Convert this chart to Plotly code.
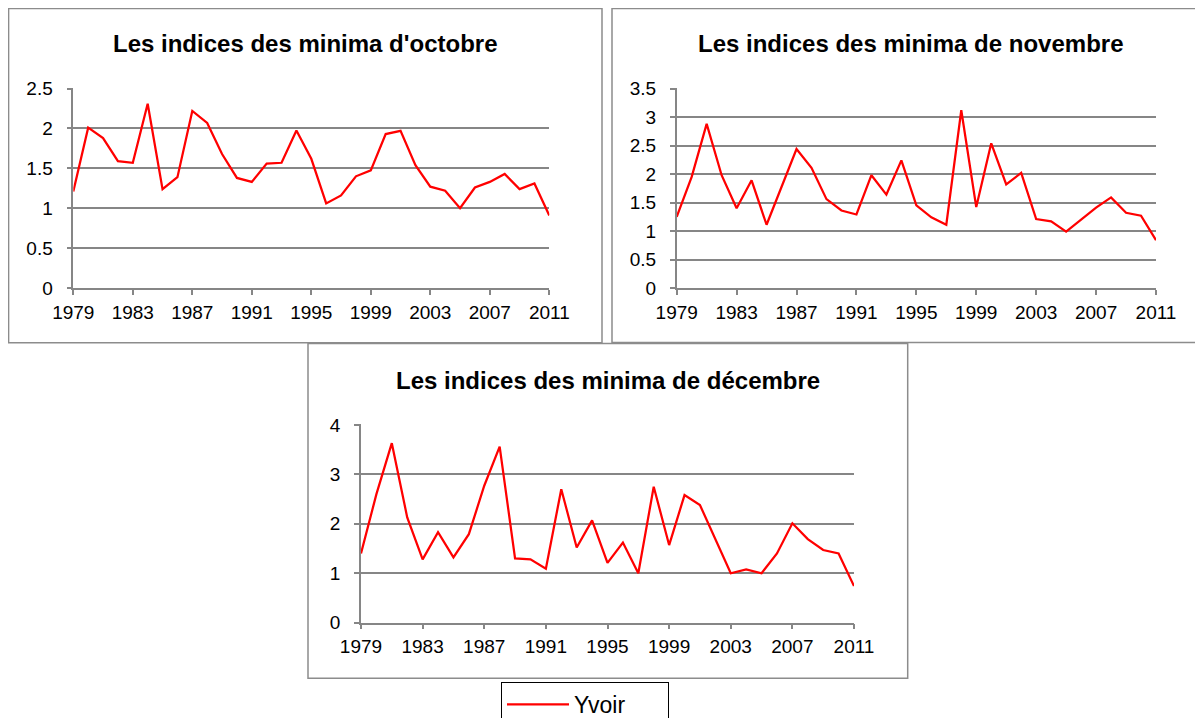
import plotly.graph_objects as go

# page body has an 8px margin: the figure is sized and placed so page coordinates match
OFF = 8
W, H = 1203 - OFF, 726 - 2 * OFF

years = list(range(1979, 2012))

octobre = [1.21, 2.01, 1.88, 1.59, 1.57, 2.31, 1.24, 1.39, 2.22, 2.07, 1.68,
           1.38, 1.33, 1.56, 1.57, 1.975, 1.62, 1.06, 1.16, 1.40, 1.475,
           1.93, 1.97, 1.54, 1.27, 1.22, 1.00, 1.26, 1.33, 1.43, 1.24, 1.31, 0.91]

novembre = [1.25, 1.95, 2.88, 1.98, 1.40, 1.89, 1.11, 1.78, 2.44, 2.11, 1.56,
            1.36, 1.29, 1.98, 1.64, 2.24, 1.45, 1.24, 1.11, 3.12, 1.42,
            2.54, 1.82, 2.02, 1.21, 1.17, 0.99, 1.20, 1.41, 1.59, 1.32, 1.27, 0.84]

decembre = [1.40, 2.60, 3.63, 2.13, 1.28, 1.83, 1.32, 1.79, 2.77, 3.56, 1.30,
            1.28, 1.09, 2.70, 1.52, 2.07, 1.21, 1.62, 1.00, 2.75, 1.57,
            2.58, 2.38, 1.69, 1.00, 1.08, 1.00, 1.40, 2.01, 1.69, 1.47, 1.40, 0.74]

x_tickvals = [1979, 1983, 1987, 1991, 1995, 1999, 2003, 2007, 2011]
x_ticktext = [str(v) for v in x_tickvals]

y1_vals = [0, 0.5, 1, 1.5, 2, 2.5]
y1_text = ["0", "0.5", "1", "1.5", "2", "2.5"]
y2_vals = [0, 0.5, 1, 1.5, 2, 2.5, 3, 3.5]
y2_text = ["0", "0.5", "1", "1.5", "2", "2.5", "3", "3.5"]
y3_vals = [0, 1, 2, 3, 4]
y3_text = ["0", "1", "2", "3", "4"]

titles = ["Les indices des minima d'octobre",
          "Les indices des minima de novembre",
          "Les indices des minima de décembre"]
series_name = "Yvoir"


def px(x):
    return (x - OFF) / W


def py(y):
    return 1 - (y - OFF) / H


GRID = "#868686"
BOX = "#8c8c8c"
FONT = "Liberation Sans, Arial, sans-serif"
RED = "#ff0000"
TICK = 19

fig = go.Figure()
fig.add_trace(go.Scatter(x=years, y=octobre, mode="lines", name=series_name,
                         line=dict(color=RED, width=2.25), xaxis="x", yaxis="y",
                         showlegend=True))
fig.add_trace(go.Scatter(x=years, y=novembre, mode="lines", name=series_name,
                         line=dict(color=RED, width=2.25), xaxis="x2", yaxis="y2",
                         showlegend=False))
fig.add_trace(go.Scatter(x=years, y=decembre, mode="lines", name=series_name,
                         line=dict(color=RED, width=2.25), xaxis="x3", yaxis="y3",
                         showlegend=False))


def xaxis(dom, anchor):
    return dict(domain=dom, anchor=anchor, range=[1979, 2011],
                tickvals=x_tickvals, ticktext=x_ticktext, automargin=False,
                showgrid=False, zeroline=False, showline=True,
                linecolor=GRID, linewidth=1.5, ticks="outside", ticklen=5,
                tickcolor=GRID, tickwidth=1.5, ticklabelstandoff=1,
                tickfont=dict(family=FONT, size=TICK, color="black"))


def yaxis(dom, anchor, vals, text, top):
    return dict(domain=dom, anchor=anchor, range=[0, top * 1.003],
                tickvals=vals, ticktext=text, automargin=False,
                showgrid=True, gridcolor=GRID, gridwidth=1.5, zeroline=False,
                showline=True, linecolor=GRID, linewidth=1.5,
                ticks="outside", ticklen=5, tickcolor=GRID, tickwidth=1.5,
                ticklabelstandoff=10,
                tickfont=dict(family=FONT, size=TICK, color="black"))


fig.update_layout(
    width=W, height=H, autosize=False,
    margin=dict(l=0, r=0, t=0, b=0, pad=0, autoexpand=False),
    paper_bgcolor="white", plot_bgcolor="white",
    xaxis=xaxis([px(73.3), px(549.3)], "y"),
    yaxis=yaxis([py(288), py(88)], "x", y1_vals, y1_text, 2.5),
    xaxis2=xaxis([px(676.7), px(1156)], "y2"),
    yaxis2=yaxis([py(288), py(88)], "x2", y2_vals, y2_text, 3.5),
    xaxis3=xaxis([px(361), px(854)], "y3"),
    yaxis3=yaxis([py(622.7), py(424.3)], "x3", y3_vals, y3_text, 4),
    legend=dict(x=px(501), y=py(682), xanchor="left", yanchor="top",
                orientation="h", itemwidth=62, entrywidth=89,
                bordercolor="black", borderwidth=1, bgcolor="white",
                font=dict(family=FONT, size=23, color="black")),
    shapes=[
        dict(type="rect", xref="paper", yref="paper",
             x0=px(8.6), x1=px(602), y0=py(342.7), y1=py(8.6),
             line=dict(color=BOX, width=1.5), layer="below"),
        dict(type="rect", xref="paper", yref="paper",
             x0=px(612), x1=px(1210), y0=py(342.5), y1=py(8.6),
             line=dict(color=BOX, width=1.5), layer="below"),
        dict(type="rect", xref="paper", yref="paper",
             x0=px(308), x1=px(907.7), y0=py(678.3), y1=py(343.5),
             line=dict(color=BOX, width=1.5), layer="below"),
    ],
    annotations=[
        dict(text="<b>%s</b>" % titles[0], x=px(305), y=py(43), xref="paper", yref="paper",
             showarrow=False, xanchor="center", yanchor="middle",
             font=dict(family=FONT, size=24, color="black")),
        dict(text="<b>%s</b>" % titles[1], x=px(910), y=py(43), xref="paper", yref="paper",
             showarrow=False, xanchor="center", yanchor="middle",
             font=dict(family=FONT, size=24, color="black")),
        dict(text="<b>%s</b>" % titles[2], x=px(608), y=py(380), xref="paper", yref="paper",
             showarrow=False, xanchor="center", yanchor="middle",
             font=dict(family=FONT, size=24, color="black")),
    ],
)

fig.write_html("out.html")
